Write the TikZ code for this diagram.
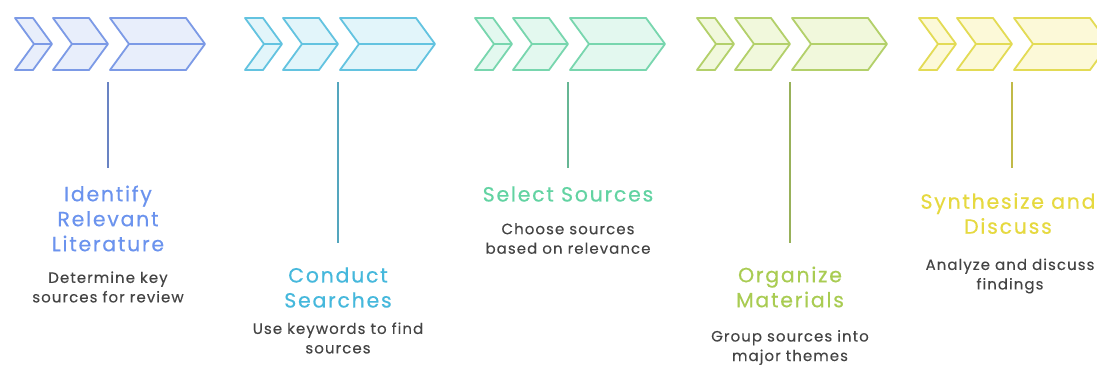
\documentclass[tikz,border=0pt]{standalone}
\usepackage{fontspec}
\setmainfont{Poppins}
\newfontfamily\titlefont{Poppins}[LetterSpace=8.5, FakeBold=0.4]
\newfontfamily\descfont{Poppins}[LetterSpace=7, FakeBold=0.15]
\usetikzlibrary{positioning}

\definecolor{g1ln}{HTML}{7C9AE6}
\definecolor{g1bg}{HTML}{E8EEFB}
\definecolor{g1tx}{HTML}{6B93EE}
\definecolor{g2ln}{HTML}{63C3E0}
\definecolor{g2bg}{HTML}{E2F5FA}
\definecolor{g2tx}{HTML}{45B8DC}
\definecolor{g3ln}{HTML}{78D6AE}
\definecolor{g3bg}{HTML}{E3F8EF}
\definecolor{g3tx}{HTML}{62D3A2}
\definecolor{g4ln}{HTML}{B3D06A}
\definecolor{g4bg}{HTML}{F1F8DC}
\definecolor{g4tx}{HTML}{A9CC52}
\definecolor{g5ln}{HTML}{E3DB55}
\definecolor{g5bg}{HTML}{FCF9D8}
\definecolor{g5tx}{HTML}{E6D93F}
\definecolor{descgray}{HTML}{444444}

\tikzset{
  chev/.style={line width=1.8pt, line join=round},
  stem/.style={line width=1.6pt},
  title/.style={font=\titlefont\fontsize{20.5}{25}\selectfont, align=center, inner sep=0pt},
  desc/.style={font=\descfont\fontsize{15}{19.5}\selectfont, align=center, text=descgray, inner sep=0pt},
}

\begin{document}
\begin{tikzpicture}[x=1pt,y=-1pt]
		\clip (0,0) rectangle (1097,367);
		\fill[white] (0,0) rectangle (1097,367);

		% chevrons and stems
		\foreach \L/\col/\e [count=\i] in {108/g1/168, 338/g2/243, 568/g3/168, 790/g4/243, 1012/g5/168}{
			\draw[chev, draw=\col ln, fill=\col bg] (\L-93,18) -- (\L-75,18) -- (\L-56,44) -- (\L-75,70) -- (\L-93,70) -- (\L-74,44) -- cycle;
			\draw[chev, draw=\col ln, fill=\col bg] (\L-55,18) -- (\L-19,18) -- (\L,44) -- (\L-19,70) -- (\L-55,70) -- (\L-36,44) -- cycle;
			\draw[chev, draw=\col ln, fill=\col bg] (\L+2,18) -- (\L+78,18) -- (\L+97,44) -- (\L+78,70) -- (\L+2,70) -- (\L+21,44) -- cycle;
			\draw[chev, draw=\col ln] (\L-74,44) -- (\L-56,44) (\L-36,44) -- (\L,44) (\L+21,44) -- (\L+97,44);
			\coordinate (top\i) at (\L,82);
			\coordinate (end\i) at (\L,\e);
			\draw[stem, draw=\col ln!85!black] (top\i) -- (end\i);
		}

		\node[title, text=g1tx] (t1) at (108,218.5) {Identify\\Relevant\\Literature};
		\node[desc] (d1) at (108,287) {Determine key\\sources for review};

		\node[title, text=g2tx] (t2) at (338,287.5) {Conduct\\Searches};
		\node[desc] (d2) at (338,338) {Use keywords to find\\sources};

		\node[title, text=g3tx] (t3) at (568,194) {Select Sources};
		\node[desc] (d3) at (568,238.5) {Choose sources\\based on relevance};

		\node[title, text=g4tx] (t4) at (790,287) {Organize\\Materials};
		\node[desc] (d4) at (790,347.5) {Group sources into\\major themes};

		\node[title, text=g5tx] (t5) at (1008,213.5) {Synthesize and\\Discuss};
		\node[desc] (d5) at (1010,276) {Analyze and discuss\\findings};
		\end{tikzpicture}
\end{document}
